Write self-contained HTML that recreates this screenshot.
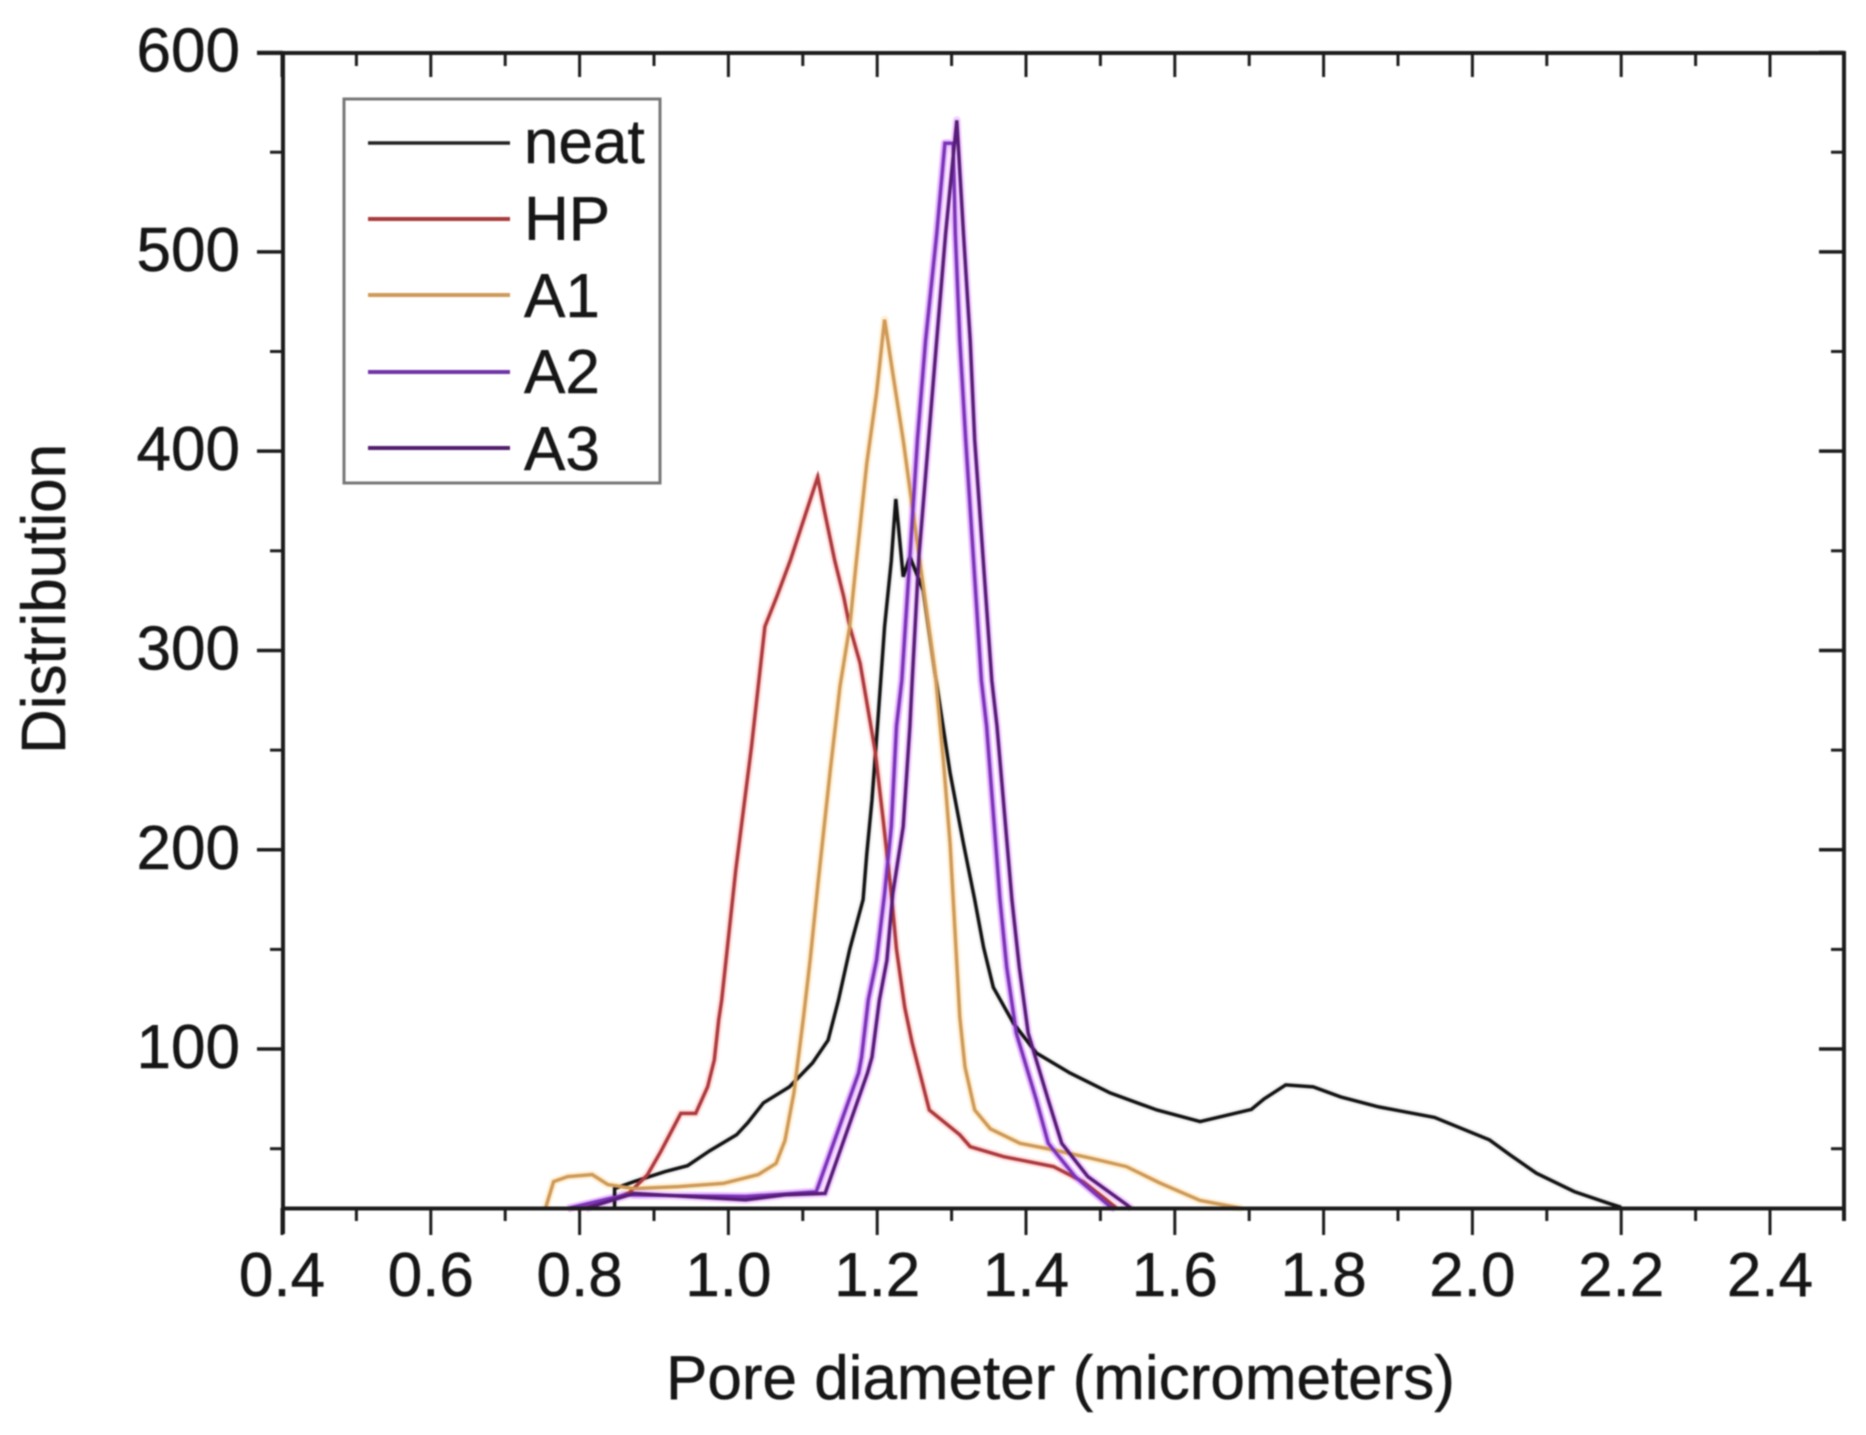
<!DOCTYPE html>
<html>
<head>
<meta charset="utf-8">
<title>Pore diameter distribution</title>
<style>
html,body{margin:0;padding:0;background:#fff;width:1866px;height:1435px;overflow:hidden}
svg{display:block;filter:blur(0.8px)}
text{font-family:"Liberation Sans",Arial,sans-serif;fill:#161616;stroke:#161616;stroke-width:0.5px;font-size:62px}
</style>
</head>
<body>
<svg id="chart" xmlns="http://www.w3.org/2000/svg" width="1866" height="1435" viewBox="0 0 1866 1435">
  <rect x="0" y="0" width="1866" height="1435" fill="#fff"/>
  <g id="halos"></g>
  <g id="series"></g>
  <g id="axes"></g>
  <text x="666" y="1399">Pore diameter (micrometers)</text>
  <text transform="translate(65,754) rotate(-90)">Distribution</text>
  <g>
    <rect x="344" y="99" width="316" height="384" fill="none" stroke="#777" stroke-width="3"/>
    <line x1="368" x2="510" y1="143" y2="143" stroke="#222" stroke-width="3.5"/>
    <line x1="368" x2="510" y1="219" y2="219" stroke="#a83a3a" stroke-width="4"/>
    <line x1="368" x2="510" y1="295" y2="295" stroke="#cf9a58" stroke-width="4"/>
    <line x1="368" x2="510" y1="372" y2="372" stroke="#7033a8" stroke-width="4"/>
    <line x1="368" x2="510" y1="448" y2="448" stroke="#521c6e" stroke-width="4"/>
    <text x="524" y="163">neat</text>
    <text x="524" y="240">HP</text>
    <text x="524" y="317">A1</text>
    <text x="524" y="393">A2</text>
    <text x="524" y="470">A3</text>
  </g>
</svg>
<script>
const xTickValues = [0.4, 0.6, 0.8, 1.0, 1.2, 1.4, 1.6, 1.8, 2.0, 2.2, 2.4];
const xTickLabels = ["0.4", "0.6", "0.8", "1.0", "1.2", "1.4", "1.6", "1.8", "2.0", "2.2", "2.4"];
const xMinorValues = [0.5, 0.7, 0.9, 1.1, 1.3, 1.5, 1.7, 1.9, 2.1, 2.3, 2.5];
const yTickValues = [100, 200, 300, 400, 500, 600];
const yTickLabels = ["100", "200", "300", "400", "500", "600"];
const yMinorValues = [50, 150, 250, 350, 450, 550];

const neatX = [0.847, 0.847, 0.873, 0.915, 0.945, 0.975, 1.011, 1.026, 1.047, 1.082, 1.113, 1.134, 1.148, 1.163, 1.181, 1.186, 1.193, 1.201, 1.210, 1.219, 1.225, 1.235, 1.244, 1.262, 1.278, 1.298, 1.316, 1.331, 1.343, 1.356, 1.383, 1.414, 1.459, 1.513, 1.576, 1.634, 1.703, 1.720, 1.749, 1.786, 1.823, 1.874, 1.949, 2.023, 2.051, 2.086, 2.137, 2.183, 2.200];
const neatY = [20, 30, 33.5, 38.5, 41.5, 49, 57, 63, 73, 81, 93, 104.5, 124.6, 150, 175, 198, 225, 265, 312, 345, 376, 337, 347, 330, 288, 238.5, 203, 175, 151, 131, 113, 98, 88, 78, 69.4, 63.6, 69.7, 75, 82, 81, 76, 71, 65.7, 54.4, 46.8, 37.7, 28.5, 22.6, 20.6];

const hpX = [0.796, 0.830, 0.867, 0.891, 0.909, 0.936, 0.956, 0.972, 0.981, 0.987, 0.991, 1.010, 1.031, 1.049, 1.065, 1.083, 1.120, 1.129, 1.143, 1.155, 1.163, 1.177, 1.197, 1.208, 1.219, 1.226, 1.237, 1.247, 1.270, 1.311, 1.325, 1.370, 1.437, 1.477, 1.508, 1.522];
const hpY = [20, 22.6, 28, 36.8, 48.5, 67.7, 67.7, 81, 94.5, 114.6, 124.6, 190, 251.7, 312, 327, 345, 387, 370, 345, 327, 312, 293.6, 250, 215, 178, 150, 121, 103, 69.4, 57, 51, 46, 41, 33.4, 24.3, 20];

const a1X = [0.754, 0.765, 0.784, 0.817, 0.838, 0.873, 0.933, 0.993, 1.040, 1.064, 1.076, 1.088, 1.101, 1.110, 1.121, 1.137, 1.150, 1.163, 1.172, 1.186, 1.199, 1.210, 1.221, 1.235, 1.248, 1.262, 1.278, 1.289, 1.298, 1.311, 1.318, 1.331, 1.352, 1.392, 1.437, 1.490, 1.535, 1.580, 1.634, 1.691];
const a1Y = [20, 33.5, 36, 37, 32, 30, 31, 32.6, 37, 42.6, 54, 78, 116, 145, 185, 240, 282, 312, 345, 394, 429, 466, 439, 405.6, 370, 332, 288.7, 245, 203, 116, 91, 69.4, 60, 52.7, 49.4, 45, 41, 32.8, 24, 20];

const a2X = [0.784, 0.861, 1.023, 1.118, 1.175, 1.179, 1.188, 1.199, 1.210, 1.219, 1.226, 1.233, 1.244, 1.254, 1.265, 1.280, 1.291, 1.302, 1.305, 1.311, 1.319, 1.340, 1.347, 1.365, 1.374, 1.387, 1.414, 1.430, 1.466, 1.513, 1.520];
const a2Y = [20, 26.8, 26, 28.4, 88, 96, 124.6, 144.6, 178, 211.6, 262, 285, 347, 405.6, 455.6, 509, 554.5, 554.5, 509, 455.6, 405.6, 285, 262, 175, 141, 108, 74.4, 52.7, 36, 21, 20];

const a3X = [0.808, 0.873, 1.023, 1.076, 1.130, 1.187, 1.193, 1.203, 1.213, 1.221, 1.235, 1.244, 1.247, 1.256, 1.269, 1.280, 1.292, 1.307, 1.316, 1.325, 1.331, 1.354, 1.361, 1.381, 1.391, 1.403, 1.430, 1.448, 1.483, 1.535, 1.542];
const a3Y = [20, 27.6, 24.3, 26.8, 27.6, 88, 96, 124.6, 144.6, 178, 211.6, 262, 285, 347, 405.6, 455.6, 509, 566, 509, 455.6, 405.6, 285, 262, 175, 141, 108, 74.4, 52.7, 36, 22, 20];

const xScale = function (v) { return 282 + (v - 0.4) * 744; };
const yScale = function (v) { return 1208.5 - (v - 20) * 1.993; };

const NS = "http://www.w3.org/2000/svg";
const axesLayer = document.getElementById("axes");
const seriesLayer = document.getElementById("series");
const haloLayer = document.getElementById("halos");

function makeLine(x1, y1, x2, y2, w) {
  const l = document.createElementNS(NS, "line");
  l.setAttribute("x1", x1);
  l.setAttribute("y1", y1);
  l.setAttribute("x2", x2);
  l.setAttribute("y2", y2);
  l.setAttribute("stroke", "#1c1c1c");
  l.setAttribute("stroke-width", w);
  axesLayer.appendChild(l);
  return l;
}

function makeLabel(str, x, y, anchor) {
  const t = document.createElementNS(NS, "text");
  t.setAttribute("x", x);
  t.setAttribute("y", y);
  t.setAttribute("text-anchor", anchor);
  t.textContent = str;
  axesLayer.appendChild(t);
  return t;
}

function points(xs, ys) {
  return xs.map(function (v, i) { return xScale(v).toFixed(1) + "," + yScale(ys[i]).toFixed(1); }).join(" ");
}

function drawSeries(xs, ys, color, haloColor, name) {
  const h = document.createElementNS(NS, "polyline");
  
  
  h.setAttribute("points", points(xs, ys));
  h.setAttribute("fill", "none");
  h.setAttribute("stroke", haloColor);
  h.setAttribute("stroke-width", "8");
  h.setAttribute("stroke-linejoin", "round");
  haloLayer.appendChild(h);
  const p = document.createElementNS(NS, "polyline");
  
  
  p.setAttribute("points", points(xs, ys));
  p.setAttribute("fill", "none");
  p.setAttribute("stroke", color);
  p.setAttribute("stroke-width", "3.5");
  p.setAttribute("stroke-linejoin", "miter");
  seriesLayer.appendChild(p);
}

drawSeries(neatX, neatY, "#141414", "#f4f4f4", "neat");
drawSeries(hpX, hpY, "#ad3a3e", "#ffe0de", "hp");
drawSeries(a1X, a1Y, "#cf9a58", "#fff0d6", "a1");
drawSeries(a2X, a2Y, "#7a34b8", "#e9bcff", "a2");
drawSeries(a3X, a3Y, "#571d78", "#f2d0ff", "a3");

const frameLeft = makeLine(283, 53, 283, 1234, 4);


const frameRight = makeLine(1844, 53, 1844, 1221, 4);


const frameTop = makeLine(257, 53, 1846, 53, 4);


const frameBottom = makeLine(283, 1208.5, 1846, 1208.5, 4);



xTickValues.forEach(function (v, i) {
  const px = xScale(v);
  const tick = makeLine(px, 1208, px, 1235, 3);
  
  
  const topTick = makeLine(px, 53, px, 77, 3);
  
  
  const label = makeLabel(xTickLabels[i], px, 1296, "middle");
  
  
});

xMinorValues.forEach(function (v) {
  const px = xScale(v);
  const tick = makeLine(px, 1208, px, 1221, 3);
  
  
  const topTick = makeLine(px, 53, px, 66, 3);
  
  
});

yTickValues.forEach(function (v, i) {
  const py = yScale(v);
  const tick = makeLine(257, py, 283, py, 3.5);
  
  
  const rightTick = makeLine(1819, py, 1844, py, 3.5);
  
  
  const label = makeLabel(yTickLabels[i], 240, py + 19, "end");
  
  
});

yMinorValues.forEach(function (v) {
  const py = yScale(v);
  const tick = makeLine(270, py, 283, py, 3);
  
  
  const rightTick = makeLine(1831, py, 1844, py, 3);
  
  
});
</script>
</body>
</html>
